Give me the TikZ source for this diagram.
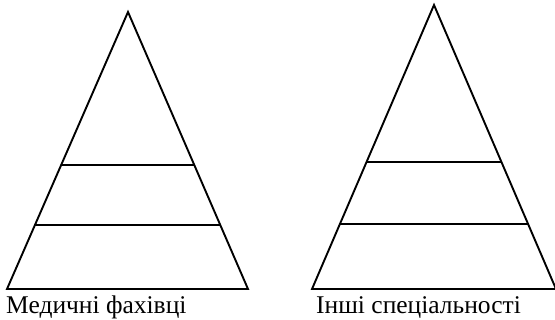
\documentclass[tikz,border=0pt]{standalone}
\usepackage{fontspec}
\setmainfont{Liberation Serif}
\usetikzlibrary{calc}
\tikzset{
  edge/.style={line width=1.9pt, line join=miter},
  lbl/.style={anchor=base west, inner sep=0pt, font=\fontsize{25.5}{30}\selectfont}
}
\begin{document}
\begin{tikzpicture}[x=1pt,y=-1pt]
\useasboundingbox (0,0) rectangle (555,320);
% left pyramid
\coordinate (LA) at (128,12);
\coordinate (LL) at (7,289);
\coordinate (LR) at (248,289);
\draw[edge] (LL) -- (LA) -- (LR) -- cycle;
\draw[edge] ($(LL)!0.447!(LA)$) -- ($(LR)!0.447!(LA)$);
\draw[edge] ($(LL)!0.231!(LA)$) -- ($(LR)!0.231!(LA)$);
% right pyramid
\coordinate (RA) at (434,5);
\coordinate (RL) at (312,289);
\coordinate (RR) at (556,289);
\draw[edge] (RL) -- (RA) -- (RR) -- cycle;
\draw[edge] ($(RL)!0.446!(RA)$) -- ($(RR)!0.446!(RA)$);
\draw[edge] ($(RL)!0.230!(RA)$) -- ($(RR)!0.230!(RA)$);
% labels
\node[lbl] (t1) at (6,313.5) {Медичні фахівці};
\node[lbl] (t2) at (316,313.5) {Інші спеціальності};
\end{tikzpicture}
\end{document}
